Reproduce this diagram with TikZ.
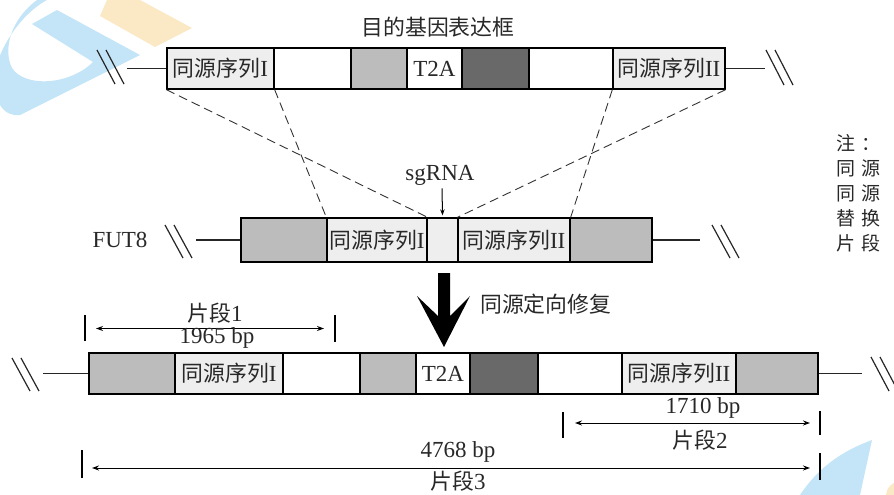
\documentclass[tikz,border=0pt]{standalone}
\usepackage{fontspec}
\setmainfont{Liberation Serif}
\newfontfamily\cjk[Scale=0.95]{Noto Sans CJK SC}
\usetikzlibrary{arrows.meta}
\definecolor{lightg}{RGB}{238,238,238}
\definecolor{midg}{RGB}{188,188,188}
\definecolor{darkg}{RGB}{105,105,105}
\definecolor{wmblue}{RGB}{196,229,247}
\definecolor{wmorange}{RGB}{251,232,196}
\definecolor{txt}{RGB}{40,40,40}
\tikzset{
  seg/.style={draw=black, line width=1.3pt, inner sep=0pt, text=txt,
    font=\fontsize{23}{26}\selectfont},
  rowa/.style={seg, minimum height=41},
  rowb/.style={seg, minimum height=44},
  lab/.style={inner sep=0pt, text=txt, font=\fontsize{23}{26}\selectfont},
  wire/.style={line width=1.2pt, draw=black!85},
  slashl/.style={line width=1.2pt, draw=black!85},
  dashln/.style={draw=black!80, line width=0.9pt, dash pattern=on 9pt off 5pt},
  dim/.style={line width=1pt, {Stealth[length=7pt,width=5pt]}-{Stealth[length=7pt,width=5pt]}},
  tick/.style={line width=1.2pt}
}
\begin{document}
\begin{tikzpicture}[x=1pt,y=-1pt]
\useasboundingbox (0,0) rectangle (894,495);
\clip (0,0) rectangle (894,495);
% watermark shapes
\fill[wmblue] (47,0) .. controls (10,20) and (-20,80) .. (0,105) .. controls (5,113) and (12,116) .. (20,115)
  -- (140,55) -- (57,10) -- (32,24) -- (93,62)
  .. controls (70,85) and (25,88) .. (12,68) .. controls (3,50) and (10,20) .. (37,0) -- cycle;
\fill[wmorange] (107,0) -- (100,16) -- (155,47) -- (192,28) -- (140,0) -- cycle;
\fill[wmblue] (800,495) .. controls (820,465) and (845,450) .. (872,440) -- (860,495) -- cycle;
\fill[wmorange] (886,495) .. controls (887,488) and (890,485) .. (894,483) -- (894,495) -- cycle;

% title
\node[lab] (title) at (438,27) {\cjk 目的基因表达框};

% row 1: cassette
\node[rowa, fill=lightg, minimum width=107] (r1a) at (220.5,68.5) {{\cjk 同源序列}I};
\node[rowa, fill=white, minimum width=77] (r1b) at (312.5,68.5) {};
\node[rowa, fill=midg, minimum width=56] (r1c) at (379,68.5) {};
\node[rowa, fill=white, minimum width=55] (r1d) at (434.5,68.5) {T2A};
\node[rowa, fill=darkg, minimum width=67] (r1e) at (495.5,68.5) {};
\node[rowa, fill=white, minimum width=84] (r1f) at (571,68.5) {};
\node[rowa, fill=lightg, minimum width=112] (r1g) at (669,68.5) {{\cjk 同源序列}II};
\coordinate (w1l) at (127,68.5);
\coordinate (w1r) at (765,68.5);
\draw[wire] (w1l) -- (r1a.west);
\draw[wire] (r1g.east) -- (w1r);
\draw[slashl] (97,50) -- (115,84) (106,50) -- (124,84);
\draw[slashl] (766,50) -- (784,85) (775,50) -- (793,85);

% row 2: FUT8
\node[lab] (fut) at (120,240) {FUT8};
\node[rowb, fill=midg, minimum width=86] (r2a) at (284,240) {};
\node[rowb, fill=lightg, minimum width=100] (r2b) at (377,240) {{\cjk 同源序列}I};
\node[rowb, fill=lightg, minimum width=31] (r2c) at (442.5,240) {};
\node[rowb, fill=lightg, minimum width=112] (r2d) at (514,240) {{\cjk 同源序列}II};
\node[rowb, fill=midg, minimum width=82] (r2e) at (611,240) {};
\coordinate (w2l) at (196,240);
\coordinate (w2r) at (700,240);
\draw[wire] (w2l) -- (r2a.west);
\draw[wire] (r2e.east) -- (w2r);
\draw[slashl] (165,225) -- (183,258) (174,225) -- (192,258);
\draw[slashl] (712,225) -- (730,258) (721,225) -- (739,258);

% dashed projections
\draw[dashln] (r1a.south west) -- (r2b.north east);
\draw[dashln] (r1a.south east) -- (r2b.north west);
\draw[dashln] (r1g.south west) -- (r2d.north east);
\draw[dashln] (r1g.south east) -- (r2d.north west);

% sgRNA
\node[lab] (sg) at (440,175) {sgRNA};
\draw[line width=1pt, -{Stealth[length=6pt,width=4.5pt]}] (sg.south) ++(2,3) -- ([yshift=2pt]r2c.north);

% big arrow
\node[lab, anchor=west] (hdr) at (480,304) {\cjk 同源定向修复};
\fill[black] (438,273) -- (450,273) -- (450,316) -- (470,296) -- (444,347) -- (417,296) -- (438,316) -- cycle;

% row 3: result
\node[rowa, fill=midg, minimum width=86] (r3a) at (132,373.5) {};
\node[rowa, fill=lightg, minimum width=108] (r3b) at (229,373.5) {{\cjk 同源序列}I};
\node[rowa, fill=white, minimum width=77] (r3c) at (321.5,373.5) {};
\node[rowa, fill=midg, minimum width=56] (r3d) at (388,373.5) {};
\node[rowa, fill=white, minimum width=54] (r3e) at (443,373.5) {T2A};
\node[rowa, fill=darkg, minimum width=68] (r3f) at (504,373.5) {};
\node[rowa, fill=white, minimum width=84] (r3g) at (580,373.5) {};
\node[rowa, fill=lightg, minimum width=114] (r3h) at (679,373.5) {{\cjk 同源序列}II};
\node[rowa, fill=midg, minimum width=82] (r3i) at (777,373.5) {};
\coordinate (w3l) at (43,373.5);
\coordinate (w3r) at (862,373.5);
\draw[wire] (w3l) -- (r3a.west);
\draw[wire] (r3i.east) -- (w3r);
\draw[slashl] (12,358) -- (30,391) (21,358) -- (39,391);
\draw[slashl] (871,357) -- (889,391) (880,357) -- (898,391);

% fragment 1
\coordinate (f1a) at (96,328.5);
\coordinate (f1b) at (324,328.5);
\draw[tick] (85,315) -- (85,341);
\draw[tick] (335,315) -- (335,342);
\draw[dim] (f1a) -- (f1b);
\node[lab] (f1t) at (215,313) {{\cjk 片段}1};
\node[lab] (f1n) at (217,338) {1965 bp};

% fragment 2
\coordinate (f2a) at (575,423);
\coordinate (f2b) at (810,423);
\draw[tick] (563,412) -- (563,438);
\draw[tick] (820,411) -- (820,435);
\draw[dim] (f2a) -- (f2b);
\node[lab] (f2n) at (703,408) {1710 bp};
\node[lab] (f2t) at (700,440) {{\cjk 片段}2};

% fragment 3
\coordinate (f3a) at (92,468);
\coordinate (f3b) at (810,468);
\draw[tick] (82,450) -- (82,478);
\draw[tick] (820,453) -- (820,480);
\draw[dim] (f3a) -- (f3b);
\node[lab] (f3n) at (458,452) {4768 bp};
\node[lab] (f3t) at (458,481.5) {{\cjk 片段}3};

% note (only the part inside the frame)
\begin{scope}[every node/.style={lab, anchor=west, font=\fontsize{20}{22}\selectfont\cjk}]
\node (n0) at (836,143) {注\hspace{6pt}：};
\node (n1) at (836,168) {同\hspace{6pt}源};
\node (n2) at (836,193) {同\hspace{6pt}源};
\node (n3) at (836,218) {替\hspace{6pt}换};
\node (n4) at (836,243) {片\hspace{6pt}段};
\end{scope}
\end{tikzpicture}
\end{document}
